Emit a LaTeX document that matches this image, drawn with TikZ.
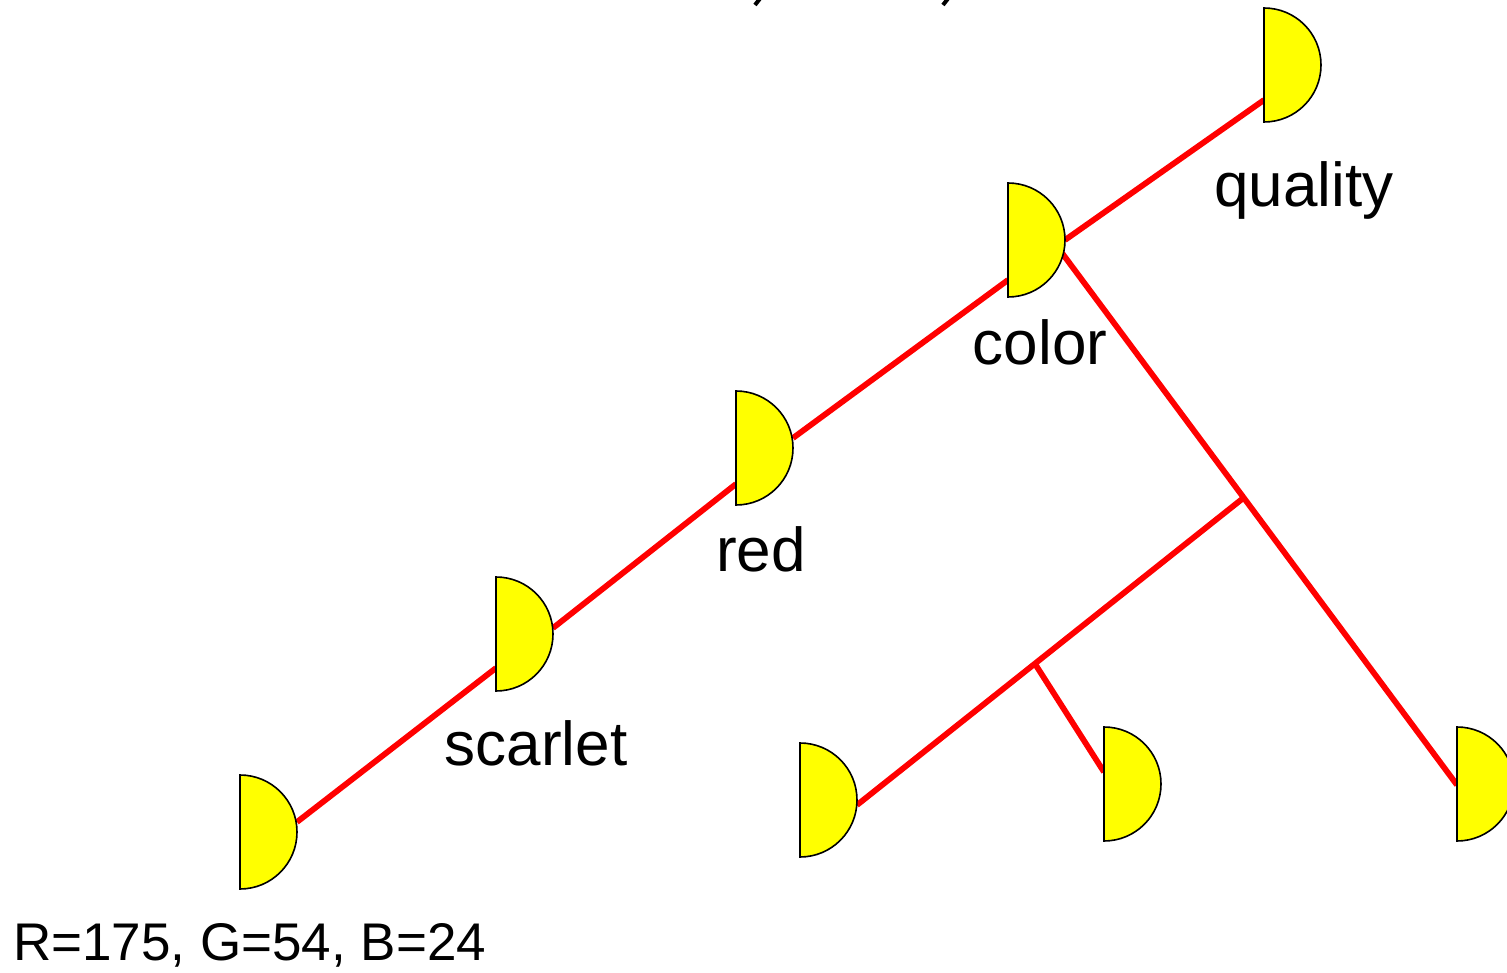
\documentclass[tikz,border=0pt]{standalone}
\usepackage{fontspec}
\setmainfont{Liberation Sans}
\usetikzlibrary{calc}
\definecolor{discyellow}{RGB}{255,255,0}
\definecolor{edgered}{RGB}{255,0,0}
\begin{document}
\begin{tikzpicture}[x=1pt,y=-1pt,
  edge/.style={draw=edgered,line width=5.8pt},
  disc/.style={draw=black,line width=1.6pt,fill=discyellow},
  lbl/.style={inner sep=0pt,anchor=base,font=\fontsize{62}{70}\selectfont},
  rgb/.style={inner sep=0pt,anchor=base west,font=\fontsize{53}{60}\selectfont},
  pics/halfdisc/.style={code={\path[disc] (0,-57) arc[start angle=-90,end angle=90,radius=57] -- cycle;}}]
\useasboundingbox (0,0) rectangle (1507,973);
% connector end points
\coordinate (blE) at (297,822);
\coordinate (scW) at (496,668);
\coordinate (scE) at (553,628);
\coordinate (rdW) at (736,484);
\coordinate (rdE) at (793,438);
\coordinate (coW) at (1008,280);
\coordinate (coE) at (1065,240);
\coordinate (coSE) at (1062,253);
\coordinate (quW) at (1264,100);
\coordinate (rtW) at (1457,785);
\coordinate (j1) at ($(coSE)!0.46!(rtW)$);
\coordinate (bmE) at (857,805);
\coordinate (j2) at ($(j1)!0.54!(bmE)$);
\coordinate (mdW) at (1104,772);
% connectors
\draw[edge] (blE) -- (scW);
\draw[edge] (scE) -- (rdW);
\draw[edge] (rdE) -- (coW);
\draw[edge] (coE) -- (quW);
\draw[edge] (coSE) -- (rtW);
\draw[edge] (j1) -- (bmE);
\draw[edge] (j2) -- (mdW);
% half discs
\pic (quality) at (1264,65) {halfdisc};
\pic (color) at (1008,240) {halfdisc};
\pic (red) at (736,448) {halfdisc};
\pic (scarlet) at (496,634) {halfdisc};
\pic (leaf) at (240,832) {halfdisc};
\pic (bm) at (800,800) {halfdisc};
\pic (md) at (1104,784) {halfdisc};
\pic (rt) at (1457,784) {halfdisc};
% labels
\node[lbl] (qlab) at (1304,207) {quality};
\node[lbl] (clab) at (1040,365) {color};
\node[lbl] (rlab) at (761,571) {red};
\node[lbl] (slab) at (536,765) {scarlet};
\node[rgb] (vlab) at (13,960) {R=175, G=54, B=24};
% cut-off text at the top edge
\draw[line width=4pt] (762,-4) -- (755,5);
\draw[line width=4pt] (950,-4) -- (943,5);
\end{tikzpicture}
\end{document}
